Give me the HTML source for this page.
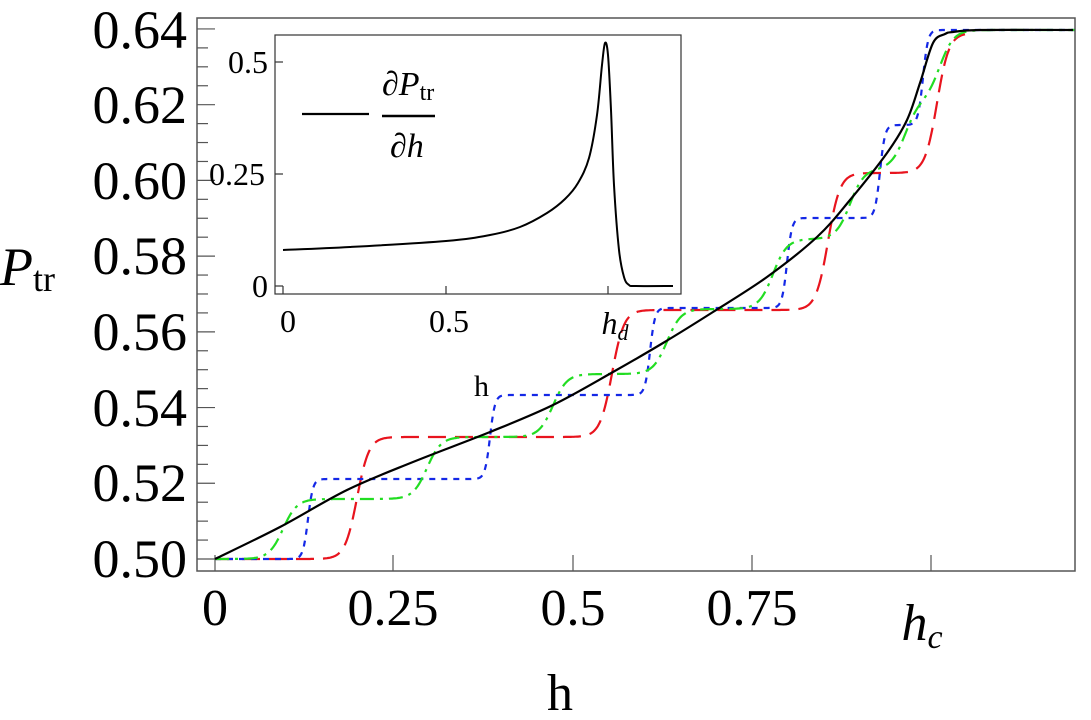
<!DOCTYPE html>
<html><head><meta charset="utf-8"><style>
body{margin:0;background:#fff;}
svg{display:block;font-family:"Liberation Serif",serif;}
</style></head><body>
<svg id="s" width="1091" height="720" viewBox="0 0 1091 720" xmlns="http://www.w3.org/2000/svg">
<rect width="1091" height="720" fill="#fff"/>
<g id="main"></g>
<rect x="197" y="18" width="878" height="553" fill="none" stroke="#555" stroke-width="1.5"/>
<g font-size="54" text-anchor="end">
<text x="187" y="577">0.50</text><text x="187" y="501">0.52</text><text x="187" y="426">0.54</text>
<text x="187" y="350">0.56</text><text x="187" y="274">0.58</text><text x="187" y="199">0.60</text>
<text x="187" y="123">0.62</text><text x="187" y="48">0.64</text>
</g>
<g font-size="52" text-anchor="middle">
<text x="215" y="625">0</text><text x="393" y="625">0.25</text><text x="573" y="625">0.5</text><text x="752" y="625">0.75</text>
<text x="922" y="640" font-style="italic">h<tspan font-size="34" dy="8">c</tspan></text>
<text x="560" y="710">h</text>
</g>
<text x="0" y="285" font-size="54" font-style="italic">P<tspan font-style="normal" font-size="36" dy="6">tr</tspan></text>
<text x="474" y="396" font-size="30">h</text>
<rect x="275" y="35" width="406" height="259" fill="#fff" stroke="#333" stroke-width="1.2"/>
<g id="inset"></g>
<g font-size="32" text-anchor="end">
<text x="268" y="297">0</text><text x="265" y="185">0.25</text><text x="268" y="73">0.5</text>
</g>
<g font-size="32" text-anchor="middle">
<text x="288" y="332">0</text><text x="449" y="332">0.5</text>
<text x="615" y="334" font-style="italic">h<tspan font-size="22" dy="6">d</tspan></text>
</g>
<line x1="302" y1="114" x2="369" y2="114" stroke="#000" stroke-width="2.2"/>
<line x1="382" y1="116" x2="435" y2="116" stroke="#000" stroke-width="2.5"/>
<text x="382" y="95" font-size="34" font-style="italic">∂P<tspan font-style="normal" font-size="24" dy="5">tr</tspan></text>
<text x="390" y="157" font-size="34" font-style="italic">∂h</text>
</svg>
<script>
var NS="http://www.w3.org/2000/svg";
function el(p,t,a){var e=document.createElementNS(NS,t);for(var k in a)e.setAttribute(k,a[k]);p.appendChild(e);return e;}
var m=document.getElementById("main"),ins=document.getElementById("inset");
for(var i=0;i<=28;i++){var y=559-i*18.93;if(y<20)break;el(m,"line",{x1:197,x2:(i%4==0?215:208),y1:y,y2:y,stroke:"#555","stroke-width":1.2});}
[215,393,573,752,931].forEach(function(x){el(m,"line",{x1:x,x2:x,y1:571,y2:555,stroke:"#555","stroke-width":1.2});});
function sig(x){return 1/(1+Math.exp(-x));}
function stepPath(steps,w,x0,x1){var d="";for(var x=x0;x<=x1;x+=1){var y=559;steps.forEach(function(s){y-=s[1]*sig((x-s[0])/w);});d+=(d?"L":"M")+x+","+y.toFixed(1);}return d;}
var red=stepPath([[357,122],[612,127],[828,137],[937,140]],6,215,965);
var blue=stepPath([[308,80],[490,84],[650,87],[787,90],[880,93],[923,95]],2.5,215,1075);
var green=stepPath([[283,60],[427,62],[553,63],[667,65],[773,70],[850,70],[905,68],[940,71]],7,215,1075);
el(m,"path",{d:red,fill:"none",stroke:"#e8141e","stroke-width":2.2,"stroke-dasharray":"18,9"});
el(m,"path",{d:blue,fill:"none",stroke:"#1428e6","stroke-width":2.2,"stroke-dasharray":"6,6"});
el(m,"path",{d:green,fill:"none",stroke:"#22dd22","stroke-width":2.2,"stroke-dasharray":"14,6,3,6"});
var bk=[[215,559],[280,527],[347,490],[413,462],[490,432],[553,405],[613,372],[663,343],[713,312],[767,277],[817,237],[850,200],[887,153],[907,120],[920,83],[933,43],[945,34],[953,32],[980,30],[1073,30]];
function smooth(p){var d="M"+p[0][0]+","+p[0][1];for(var i=0;i<p.length-1;i++){var p0=p[i>0?i-1:0],p1=p[i],p2=p[i+1],p3=p[i+2<p.length?i+2:i+1];d+="C"+(p1[0]+(p2[0]-p0[0])/6)+","+(p1[1]+(p2[1]-p0[1])/6)+" "+(p2[0]-(p3[0]-p1[0])/6)+","+(p2[1]-(p3[1]-p1[1])/6)+" "+p2[0]+","+p2[1];}return d;}
el(m,"path",{d:smooth(bk),fill:"none",stroke:"#000","stroke-width":2.2});
[286,174,62].forEach(function(y){el(ins,"line",{x1:275,x2:283,y1:y,y2:y,stroke:"#333","stroke-width":1.2});});
[283,446,608].forEach(function(x){el(ins,"line",{x1:x,x2:x,y1:294,y2:286,stroke:"#333","stroke-width":1.2});});
var ip=[[283,250],[350,247],[446,241],[490,235],[520,227],[547,213],[565,199],[578,183],[589,158],[597,115],[602,65],[605,43],[608,55],[611,110],[614,185],[619,250],[624,277],[629,285],[636,286],[673,286]];
el(ins,"path",{d:smooth(ip),fill:"none",stroke:"#000","stroke-width":2});
</script>
</body></html>
